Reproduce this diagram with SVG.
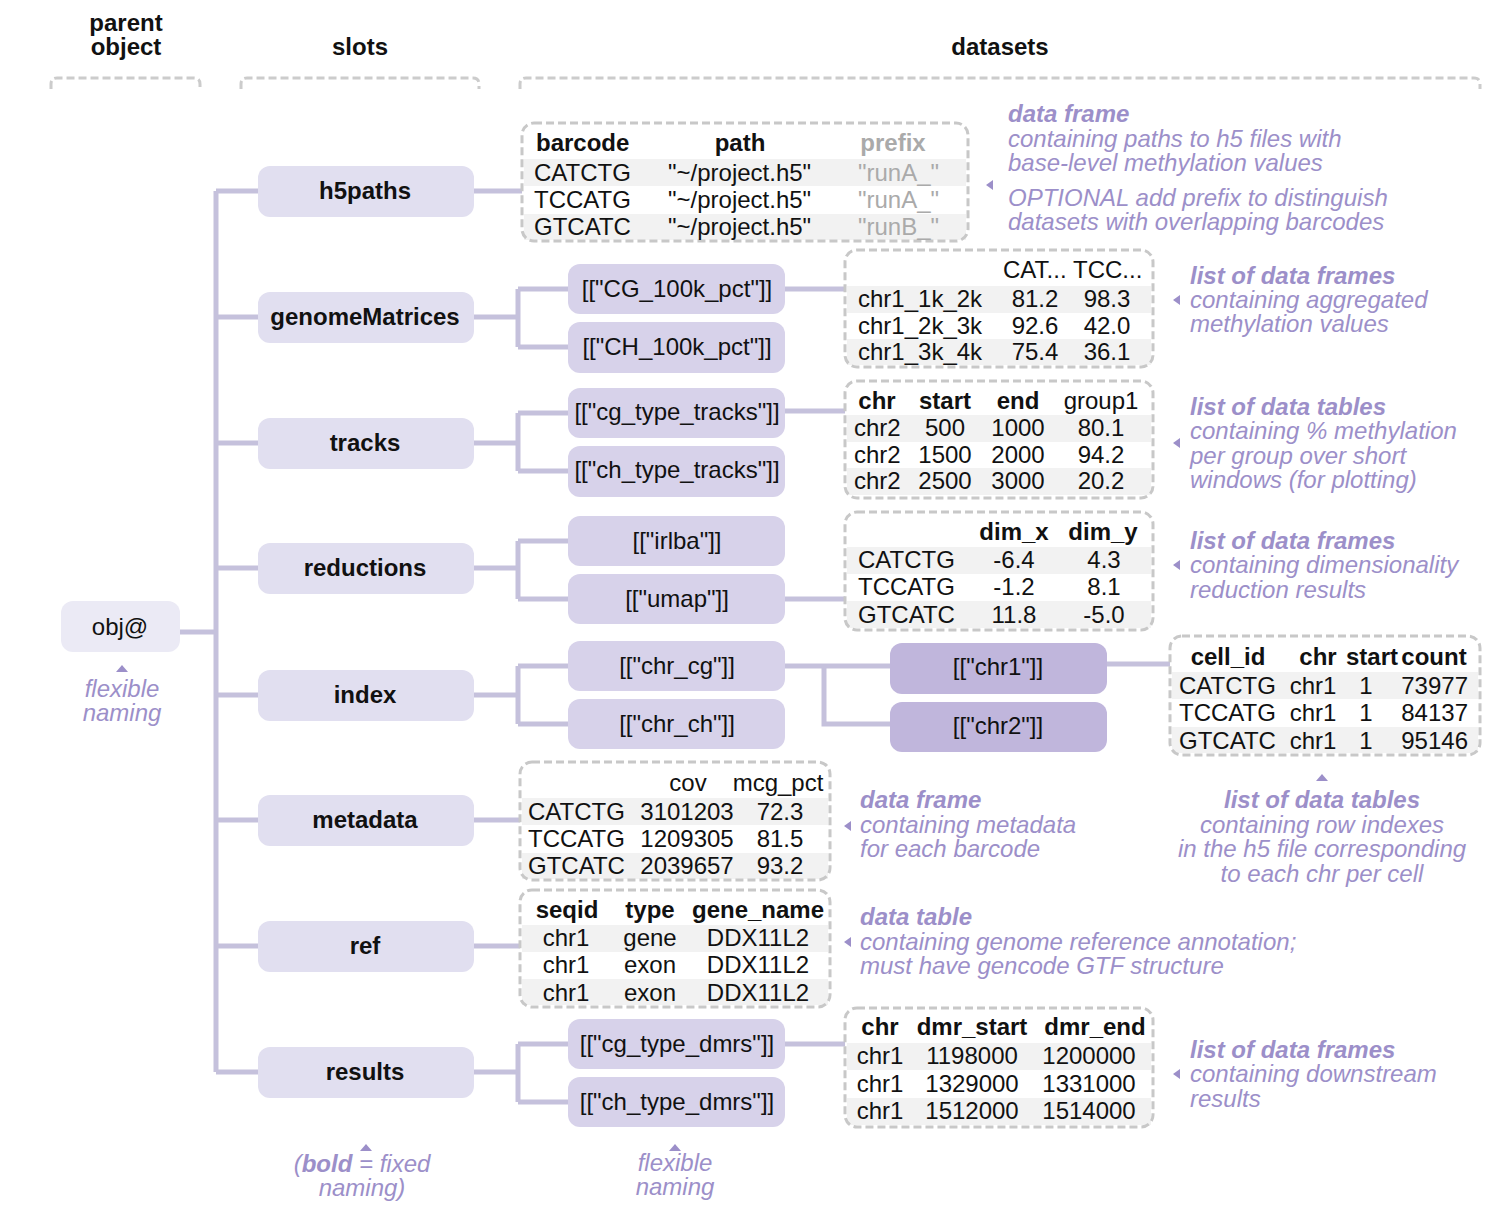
<svg xmlns="http://www.w3.org/2000/svg" width="1500" height="1224" viewBox="0 0 1500 1224">
<style>
text{font-family:"Liberation Sans",Arial,sans-serif;font-size:24px;fill:#111}
.h{font-weight:bold}
.c{text-anchor:middle}
.e{text-anchor:end}
.g{fill:#aaaaaa}
.slot{fill:#e1dff0}
.sub{fill:#d7d2ea}
.chr{fill:#c0b6dc}
.obj{fill:#ebeaf5}
.tbl{fill:none;stroke:#c8c8c8;stroke-width:3;stroke-dasharray:8 4}
.br{fill:none;stroke:#cccccc;stroke-width:3;stroke-dasharray:8 4}
.band{fill:#f2f2f2}
.a{fill:#9c8fc9;font-style:italic}
.ab{fill:#9c8fc9;font-style:italic;font-weight:bold}
.tri{fill:#9c8fc9}
#connectors path{fill:none;stroke:#c5c1dc;stroke-width:5}
</style>

<!-- headers -->
<g id="headers">
<text class="h c" x="126" y="31">parent</text>
<text class="h c" x="126" y="55">object</text>
<text class="h c" x="360" y="55">slots</text>
<text class="h c" x="1000" y="55">datasets</text>
<path class="br" d="M51,89 V84 Q51,78 57,78 H194 Q200,78 200,84 V89"/>
<path class="br" d="M241,89 V84 Q241,78 247,78 H473 Q479,78 479,84 V89"/>
<path class="br" d="M520,89 V84 Q520,78 526,78 H1474 Q1480,78 1480,84 V89"/>
</g>

<!-- connectors -->
<g id="connectors">
<path d="M216,191 V1072"/>
<path d="M180,632 H216"/>
<path d="M216,191 H258 M216,317 H258 M216,443 H258 M216,568 H258 M216,695 H258 M216,820 H258 M216,946 H258 M216,1072 H258"/>
<path d="M474,191 H522"/>
<path d="M474,317 H518 M518,289 V347 M518,289 H568 M518,347 H568"/>
<path d="M474,443 H518 M518,413 V471 M518,413 H568 M518,471 H568"/>
<path d="M474,568 H518 M518,541 V599 M518,541 H568 M518,599 H568"/>
<path d="M474,695 H518 M518,666 V724 M518,666 H568 M518,724 H568"/>
<path d="M474,820 H520"/>
<path d="M474,946 H520"/>
<path d="M474,1072 H518 M518,1044 V1102 M518,1044 H568 M518,1102 H568"/>
<path d="M785,289 H845 M785,411 H845 M785,599 H845 M785,1044 H845"/>
<path d="M785,666 H890 M824,666 V724 H890"/>
<path d="M1107,664 H1170"/>
</g>

<!-- parent object -->
<g id="obj">
<rect class="obj" x="61" y="601" width="119" height="51" rx="12"/>
<text class="c" x="120" y="635">obj@</text>
<polygon class="tri" points="116,672 128,672 122,665"/>
<text class="a c" x="122" y="697">flexible</text>
<text class="a c" x="122" y="721">naming</text>
</g>

<!-- slots -->
<g id="slot-h5paths"><rect class="slot" x="258" y="166" width="216" height="51" rx="12"/><text class="h c" x="365" y="199">h5paths</text></g>
<g id="slot-genomeMatrices"><rect class="slot" x="258" y="292" width="216" height="51" rx="12"/><text class="h c" x="365" y="325">genomeMatrices</text></g>
<g id="slot-tracks"><rect class="slot" x="258" y="418" width="216" height="51" rx="12"/><text class="h c" x="365" y="451">tracks</text></g>
<g id="slot-reductions"><rect class="slot" x="258" y="543" width="216" height="51" rx="12"/><text class="h c" x="365" y="576">reductions</text></g>
<g id="slot-index"><rect class="slot" x="258" y="670" width="216" height="51" rx="12"/><text class="h c" x="365" y="703">index</text></g>
<g id="slot-metadata"><rect class="slot" x="258" y="795" width="216" height="51" rx="12"/><text class="h c" x="365" y="828">metadata</text></g>
<g id="slot-ref"><rect class="slot" x="258" y="921" width="216" height="51" rx="12"/><text class="h c" x="365" y="954">ref</text></g>
<g id="slot-results"><rect class="slot" x="258" y="1047" width="216" height="51" rx="12"/><text class="h c" x="365" y="1080">results</text></g>

<!-- sub nodes -->
<g id="sub-cg100k"><rect class="sub" x="568" y="264" width="217" height="50" rx="12"/><text class="c" x="677" y="297">[["CG_100k_pct"]]</text></g>
<g id="sub-ch100k"><rect class="sub" x="568" y="322" width="217" height="51" rx="12"/><text class="c" x="677" y="355">[["CH_100k_pct"]]</text></g>
<g id="sub-cgtracks"><rect class="sub" x="568" y="388" width="217" height="50" rx="12"/><text class="c" x="677" y="420">[["cg_type_tracks"]]</text></g>
<g id="sub-chtracks"><rect class="sub" x="568" y="446" width="217" height="51" rx="12"/><text class="c" x="677" y="478">[["ch_type_tracks"]]</text></g>
<g id="sub-irlba"><rect class="sub" x="568" y="516" width="217" height="50" rx="12"/><text class="c" x="677" y="549">[["irlba"]]</text></g>
<g id="sub-umap"><rect class="sub" x="568" y="574" width="217" height="50" rx="12"/><text class="c" x="677" y="607">[["umap"]]</text></g>
<g id="sub-chrcg"><rect class="sub" x="568" y="641" width="217" height="50" rx="12"/><text class="c" x="677" y="674">[["chr_cg"]]</text></g>
<g id="sub-chrch"><rect class="sub" x="568" y="699" width="217" height="50" rx="12"/><text class="c" x="677" y="732">[["chr_ch"]]</text></g>
<g id="sub-cgdmrs"><rect class="sub" x="568" y="1019" width="217" height="50" rx="12"/><text class="c" x="677" y="1052">[["cg_type_dmrs"]]</text></g>
<g id="sub-chdmrs"><rect class="sub" x="568" y="1077" width="217" height="50" rx="12"/><text class="c" x="677" y="1110">[["ch_type_dmrs"]]</text></g>
<g id="sub-chr1"><rect class="chr" x="890" y="643" width="217" height="51" rx="12"/><text class="c" x="998" y="675">[["chr1"]]</text></g>
<g id="sub-chr2"><rect class="chr" x="890" y="702" width="217" height="50" rx="12"/><text class="c" x="998" y="734">[["chr2"]]</text></g>

<!-- h5paths table -->
<g id="tbl-h5paths">
<rect class="band" x="524" y="159" width="442" height="27"/>
<rect class="band" x="524" y="214" width="442" height="26"/>
<rect class="tbl" x="522" y="123" width="446" height="118" rx="12"/>
<text class="h" x="536" y="151">barcode</text><text class="h c" x="740" y="151">path</text><text class="h c g" x="893" y="151">prefix</text>
<text x="534" y="181">CATCTG</text><text x="668" y="181">"~/project.h5"</text><text class="g" x="858" y="181">"runA_"</text>
<text x="534" y="208">TCCATG</text><text x="668" y="208">"~/project.h5"</text><text class="g" x="858" y="208">"runA_"</text>
<text x="534" y="235">GTCATC</text><text x="668" y="235">"~/project.h5"</text><text class="g" x="858" y="235">"runB_"</text>
</g>

<!-- genomeMatrices table -->
<g id="tbl-genome">
<rect class="band" x="847" y="286" width="304" height="27"/>
<rect class="band" x="847" y="339" width="304" height="26"/>
<rect class="tbl" x="845" y="250" width="308" height="117" rx="12"/>
<text x="1003" y="278">CAT...</text><text x="1073" y="278">TCC...</text>
<text x="858" y="307">chr1_1k_2k</text><text class="c" x="1035" y="307">81.2</text><text class="c" x="1107" y="307">98.3</text>
<text x="858" y="334">chr1_2k_3k</text><text class="c" x="1035" y="334">92.6</text><text class="c" x="1107" y="334">42.0</text>
<text x="858" y="360">chr1_3k_4k</text><text class="c" x="1035" y="360">75.4</text><text class="c" x="1107" y="360">36.1</text>
</g>

<!-- tracks table -->
<g id="tbl-tracks">
<rect class="band" x="847" y="415" width="304" height="27"/>
<rect class="band" x="847" y="468" width="304" height="27"/>
<rect class="tbl" x="845" y="381" width="308" height="117" rx="12"/>
<text class="h c" x="877" y="409">chr</text><text class="h c" x="945" y="409">start</text><text class="h c" x="1018" y="409">end</text><text class="c" x="1101" y="409">group1</text>
<text x="854" y="436">chr2</text><text class="c" x="945" y="436">500</text><text class="c" x="1018" y="436">1000</text><text class="c" x="1101" y="436">80.1</text>
<text x="854" y="463">chr2</text><text class="c" x="945" y="463">1500</text><text class="c" x="1018" y="463">2000</text><text class="c" x="1101" y="463">94.2</text>
<text x="854" y="489">chr2</text><text class="c" x="945" y="489">2500</text><text class="c" x="1018" y="489">3000</text><text class="c" x="1101" y="489">20.2</text>
</g>

<!-- reductions table -->
<g id="tbl-reductions">
<rect class="band" x="847" y="547" width="304" height="27"/>
<rect class="band" x="847" y="601" width="304" height="27"/>
<rect class="tbl" x="845" y="512" width="308" height="118" rx="12"/>
<text class="h c" x="1014" y="540">dim_x</text><text class="h c" x="1103" y="540">dim_y</text>
<text x="858" y="568">CATCTG</text><text class="c" x="1014" y="568">-6.4</text><text class="c" x="1104" y="568">4.3</text>
<text x="858" y="595">TCCATG</text><text class="c" x="1014" y="595">-1.2</text><text class="c" x="1104" y="595">8.1</text>
<text x="858" y="623">GTCATC</text><text class="c" x="1014" y="623">11.8</text><text class="c" x="1104" y="623">-5.0</text>
</g>

<!-- index cell table -->
<g id="tbl-index">
<rect class="band" x="1172" y="672" width="306" height="27"/>
<rect class="band" x="1172" y="727" width="306" height="26"/>
<rect class="tbl" x="1170" y="636" width="310" height="119" rx="12"/>
<text class="h c" x="1228" y="665">cell_id</text><text class="h c" x="1318" y="665">chr</text><text class="h c" x="1372" y="665">start</text><text class="h c" x="1434" y="665">count</text>
<text x="1179" y="694">CATCTG</text><text class="c" x="1313" y="694">chr1</text><text class="c" x="1366" y="694">1</text><text class="e" x="1468" y="694">73977</text>
<text x="1179" y="721">TCCATG</text><text class="c" x="1313" y="721">chr1</text><text class="c" x="1366" y="721">1</text><text class="e" x="1468" y="721">84137</text>
<text x="1179" y="749">GTCATC</text><text class="c" x="1313" y="749">chr1</text><text class="c" x="1366" y="749">1</text><text class="e" x="1468" y="749">95146</text>
</g>

<!-- metadata table -->
<g id="tbl-metadata">
<rect class="band" x="522" y="798" width="306" height="27"/>
<rect class="band" x="522" y="853" width="306" height="26"/>
<rect class="tbl" x="520" y="762" width="310" height="118" rx="12"/>
<text class="c" x="688" y="791">cov</text><text class="c" x="778" y="791">mcg_pct</text>
<text x="528" y="820">CATCTG</text><text class="c" x="687" y="820">3101203</text><text class="c" x="780" y="820">72.3</text>
<text x="528" y="847">TCCATG</text><text class="c" x="687" y="847">1209305</text><text class="c" x="780" y="847">81.5</text>
<text x="528" y="874">GTCATC</text><text class="c" x="687" y="874">2039657</text><text class="c" x="780" y="874">93.2</text>
</g>

<!-- ref table -->
<g id="tbl-ref">
<rect class="band" x="522" y="925" width="306" height="27"/>
<rect class="band" x="522" y="979" width="306" height="26"/>
<rect class="tbl" x="520" y="890" width="310" height="117" rx="12"/>
<text class="h c" x="567" y="918">seqid</text><text class="h c" x="650" y="918">type</text><text class="h c" x="758" y="918">gene_name</text>
<text class="c" x="566" y="946">chr1</text><text class="c" x="650" y="946">gene</text><text class="c" x="758" y="946">DDX11L2</text>
<text class="c" x="566" y="973">chr1</text><text class="c" x="650" y="973">exon</text><text class="c" x="758" y="973">DDX11L2</text>
<text class="c" x="566" y="1001">chr1</text><text class="c" x="650" y="1001">exon</text><text class="c" x="758" y="1001">DDX11L2</text>
</g>

<!-- results table -->
<g id="tbl-results">
<rect class="band" x="847" y="1043" width="304" height="27"/>
<rect class="band" x="847" y="1098" width="304" height="27"/>
<rect class="tbl" x="845" y="1008" width="308" height="119" rx="12"/>
<text class="h c" x="880" y="1035">chr</text><text class="h c" x="972" y="1035">dmr_start</text><text class="h c" x="1095" y="1035">dmr_end</text>
<text class="c" x="880" y="1064">chr1</text><text class="c" x="972" y="1064">1198000</text><text class="c" x="1089" y="1064">1200000</text>
<text class="c" x="880" y="1092">chr1</text><text class="c" x="972" y="1092">1329000</text><text class="c" x="1089" y="1092">1331000</text>
<text class="c" x="880" y="1119">chr1</text><text class="c" x="972" y="1119">1512000</text><text class="c" x="1089" y="1119">1514000</text>
</g>

<!-- annotations -->
<g id="annotations">
<polygon class="tri" points="986,185 993,180 993,190"/>
<text class="ab" x="1008" y="122">data frame</text>
<text class="a" x="1008" y="147">containing paths to h5 files with</text>
<text class="a" x="1008" y="171">base-level methylation values</text>
<text class="a" x="1008" y="206">OPTIONAL add prefix to distinguish</text>
<text class="a" x="1008" y="230">datasets with overlapping barcodes</text>

<polygon class="tri" points="1173,300 1180,295 1180,305"/>
<text class="ab" x="1190" y="284">list of data frames</text>
<text class="a" x="1190" y="308">containing aggregated</text>
<text class="a" x="1190" y="332">methylation values</text>

<polygon class="tri" points="1173,443 1180,438 1180,448"/>
<text class="ab" x="1190" y="415">list of data tables</text>
<text class="a" x="1190" y="439">containing % methylation</text>
<text class="a" x="1190" y="464">per group over short</text>
<text class="a" x="1190" y="488">windows (for plotting)</text>

<polygon class="tri" points="1173,565 1180,560 1180,570"/>
<text class="ab" x="1190" y="549">list of data frames</text>
<text class="a" x="1190" y="573">containing dimensionality</text>
<text class="a" x="1190" y="598">reduction results</text>

<polygon class="tri" points="1316,781 1328,781 1322,774"/>
<text class="ab c" x="1322" y="808">list of data tables</text>
<text class="a c" x="1322" y="833">containing row indexes</text>
<text class="a c" x="1322" y="857">in the h5 file corresponding</text>
<text class="a c" x="1322" y="882">to each chr per cell</text>

<polygon class="tri" points="844,826 851,821 851,831"/>
<text class="ab" x="860" y="808">data frame</text>
<text class="a" x="860" y="833">containing metadata</text>
<text class="a" x="860" y="857">for each barcode</text>

<polygon class="tri" points="844,942 851,937 851,947"/>
<text class="ab" x="860" y="925">data table</text>
<text class="a" x="860" y="950">containing genome reference annotation;</text>
<text class="a" x="860" y="974">must have gencode GTF structure</text>

<polygon class="tri" points="1173,1074 1180,1069 1180,1079"/>
<text class="ab" x="1190" y="1058">list of data frames</text>
<text class="a" x="1190" y="1082">containing downstream</text>
<text class="a" x="1190" y="1107">results</text>

<polygon class="tri" points="360,1151 372,1151 366,1144"/>
<text class="a c" x="362" y="1172">(<tspan font-weight="bold">bold</tspan> = fixed</text>
<text class="a c" x="362" y="1196">naming)</text>

<polygon class="tri" points="669,1151 681,1151 675,1144"/>
<text class="a c" x="675" y="1171">flexible</text>
<text class="a c" x="675" y="1195">naming</text>
</g>
</svg>
